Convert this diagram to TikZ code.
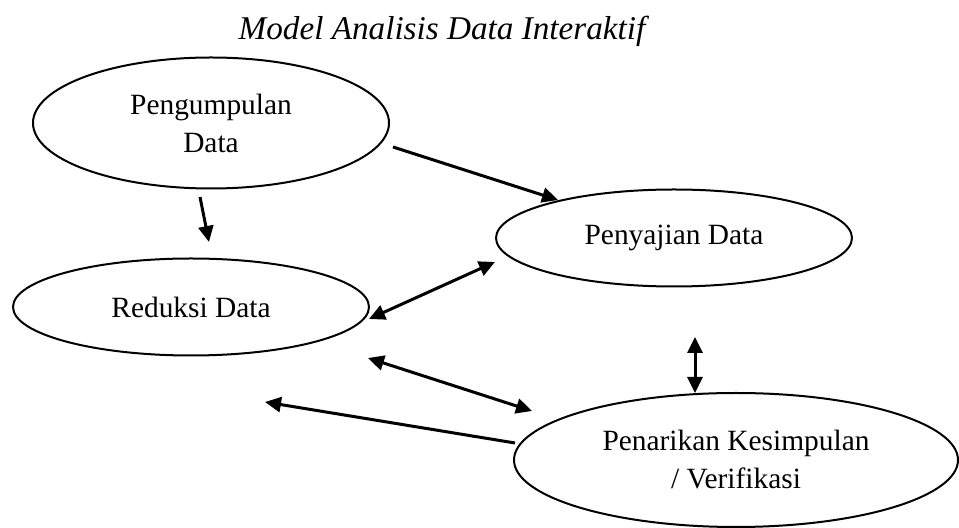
\documentclass[tikz,border=0pt]{standalone}
\usepackage{fontspec}
\setmainfont{Liberation Serif}
\usetikzlibrary{shapes.geometric,arrows.meta}

\begin{document}
\begin{tikzpicture}[x=0.5pt,y=-0.5pt]
	\tikzset{>={Triangle[length=8pt,width=7.5pt]}}
	\tikzset{tahap/.style={draw,ellipse,line width=1pt,inner sep=0pt,align=center,font=\fontsize{14.7}{19}\selectfont}}
	\tikzset{panah/.style={line width=1.5pt}}
	\useasboundingbox (0,0) rectangle (959,528);
	
	\node[font=\fontsize{16.6}{19}\selectfont\itshape] (judul) at (442,31) {Model Analisis Data Interaktif};
	
	\node[tahap,minimum width=178pt,minimum height=65.5pt] (kumpul) at (211,123) {Pengumpulan\\Data};
	\node[tahap,minimum width=178pt,minimum height=48.5pt] (saji) at (674,238) {Penyajian Data};
	\node[tahap,minimum width=178pt,minimum height=48.5pt] (reduksi) at (191,307) {Reduksi Data};
	\node[tahap,minimum width=222pt,minimum height=67pt] (tarik) at (736,460) {Penarikan Kesimpulan\\/ Verifikasi};
	
	
	\coordinate (k1) at (393,147);
	\coordinate (s1) at (558,200);
	\coordinate (k2) at (200,197);
	\coordinate (r1) at (209,242);
	\coordinate (r2) at (369,319);
	\coordinate (s2) at (495,262);
	\coordinate (s3) at (695,337);
	\coordinate (t1) at (695,393);
	\coordinate (r3) at (368,358);
	\coordinate (t2) at (532,411);
	\coordinate (t3) at (515,443);
	\coordinate (r4) at (265,402);
	
	\draw[->,panah] (k1) -- (s1);
	\draw[->,panah] (k2) -- (r1);
	\draw[<->,panah] (r2) -- (s2);
	\draw[<->,panah] (s3) -- (t1);
	\draw[<->,panah] (r3) -- (t2);
	\draw[->,panah] (t3) -- (r4);
	
\end{tikzpicture}
\end{document}
